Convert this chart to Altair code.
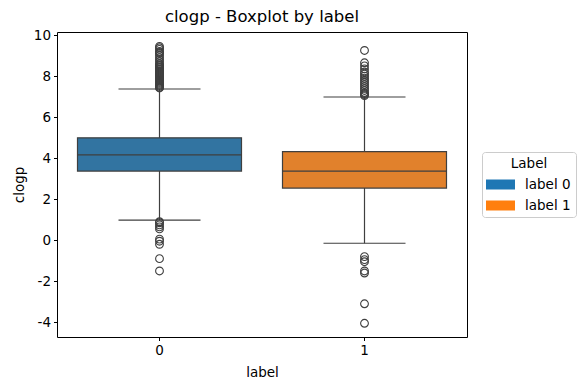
import altair as alt
import pandas as pd

# ---- data ----
labels = ["0", "1"]
legend_names = ["label 0", "label 1"]
q1 = [3.37, 2.54]
median = [4.16, 3.37]
q3 = [4.99, 4.32]
whisker_low = [0.98, -0.15]
whisker_high = [7.37, 6.98]
outliers_0 = [7.42, 7.45, 7.5, 7.55, 7.6, 7.65, 7.7, 7.75, 7.8, 7.85, 7.9, 7.95,
              8.0, 8.05, 8.1, 8.15, 8.2, 8.25, 8.3, 8.35, 8.4, 8.45, 8.5, 8.55,
              8.6, 8.7, 8.8, 8.9, 9.0, 9.1, 9.15, 9.2, 9.3, 9.38, 9.45,
              0.9, 0.85, 0.75, 0.65, 0.55, 0.05, -0.05, -0.2, -0.9, -1.5]
outliers_1 = [7.05, 7.1, 7.15, 7.2, 7.3, 7.4, 7.5, 7.6, 7.7, 7.8, 7.9, 8.0,
              8.1, 8.2, 8.35, 8.5, 8.65, 9.25,
              -0.8, -0.95, -1.05, -1.5, -1.6, -3.1, -4.05]
box_colors = ["#3274a1", "#e1812c"]
legend_colors = ["#1f77b4", "#ff7f0e"]
y_ticks = [-4, -2, 0, 2, 4, 6, 8, 10]

LINE = "#3f3f3f"
FONT = "DejaVu Sans"
FS = 13.5

stats = pd.DataFrame({
    "label": labels, "name": legend_names, "q1": q1, "median": median,
    "q3": q3, "lo": whisker_low, "hi": whisker_high,
})
outs = pd.DataFrame({
    "label": ["0"] * len(outliers_0) + ["1"] * len(outliers_1),
    "clogp": outliers_0 + outliers_1,
})

xscale = alt.Scale(domain=labels, paddingInner=0, paddingOuter=0)
yscale = alt.Scale(domain=[-4.72, 10.15], nice=False, zero=False)

x_enc = alt.X("label:N", scale=xscale, title="label",
              axis=alt.Axis(labelAngle=0, domain=False, tickColor="black",
                            tickSize=3.5, labelPadding=3, titlePadding=8,
                            titleFontWeight="normal"))
y_axis = alt.Axis(values=y_ticks, grid=False, domain=False, tickColor="black",
                  tickSize=3.5, labelPadding=3, titlePadding=7,
                  titleFontWeight="normal",
                  labelExpr="replace(datum.label, '\u2212', '-')")

base = alt.Chart(stats)

whisk = base.mark_rule(color=LINE, strokeWidth=1.2, opacity=1).encode(
    x=x_enc,
    y=alt.Y("lo:Q", scale=yscale, axis=y_axis, title="clogp"),
    y2="hi:Q",
)
caps_lo = base.mark_tick(color=LINE, size=82, thickness=1.2, opacity=1).encode(
    x=x_enc, y=alt.Y("lo:Q", scale=yscale))
caps_hi = base.mark_tick(color=LINE, size=82, thickness=1.2, opacity=1).encode(
    x=x_enc, y=alt.Y("hi:Q", scale=yscale))
box = base.mark_bar(width=alt.RelativeBandSize(0.8), stroke=LINE,
                    strokeWidth=1.2, opacity=1).encode(
    x=x_enc,
    y=alt.Y("q1:Q", scale=yscale),
    y2="q3:Q",
    fill=alt.Fill("label:N", scale=alt.Scale(domain=labels, range=box_colors),
                  legend=None),
)
med = base.mark_tick(color=LINE, size=164, thickness=1.2, opacity=1).encode(
    x=x_enc, y=alt.Y("median:Q", scale=yscale))

pts = alt.Chart(outs).mark_point(shape="circle", filled=False, color=LINE,
                                 size=60, strokeWidth=1.1, opacity=1).encode(
    x=x_enc, y=alt.Y("clogp:Q", scale=yscale))

legend_layer = base.mark_square(size=0).encode(
    x=x_enc, y=alt.Y("median:Q", scale=yscale),
    color=alt.Color("name:N",
                    scale=alt.Scale(domain=legend_names, range=legend_colors),
                    legend=alt.Legend(
                        title="Label", orient="none", legendX=425, legendY=120,
                        symbolType="M-1.1,-0.5H1.8V0.5H-1.1Z", symbolSize=400,
                        symbolOpacity=1, symbolStrokeWidth=0,
                        labelOffset=18, padding=5, rowPadding=4,
                        titlePadding=4, titleAnchor="middle",
                        titleFontWeight="normal", titleFontSize=FS,
                        titleFont=FONT, titleColor="black",
                        labelFont=FONT, labelFontSize=FS, labelColor="black",
                        strokeColor="#cccccc", fillColor="white",
                        cornerRadius=3,
                    )),
)

chart = alt.layer(whisk, caps_lo, caps_hi, box, med, pts, legend_layer).properties(
    width=410, height=305,
    background="white",
    title=alt.Title("clogp - Boxplot by label", fontSize=16.5, font=FONT,
                    fontWeight="normal", color="black", offset=3),
    autosize=alt.AutoSizeParams(type="none"),
    padding={"left": 49, "top": 24, "right": 113, "bottom": 45},
).configure_view(stroke="black", strokeWidth=1).configure_axis(
    labelFont=FONT, titleFont=FONT, labelFontSize=FS, titleFontSize=FS,
    labelColor="black", titleColor="black", titleFontWeight="normal",
)

chart.save("out.html", embed_options={"renderer": "svg", "actions": False})
